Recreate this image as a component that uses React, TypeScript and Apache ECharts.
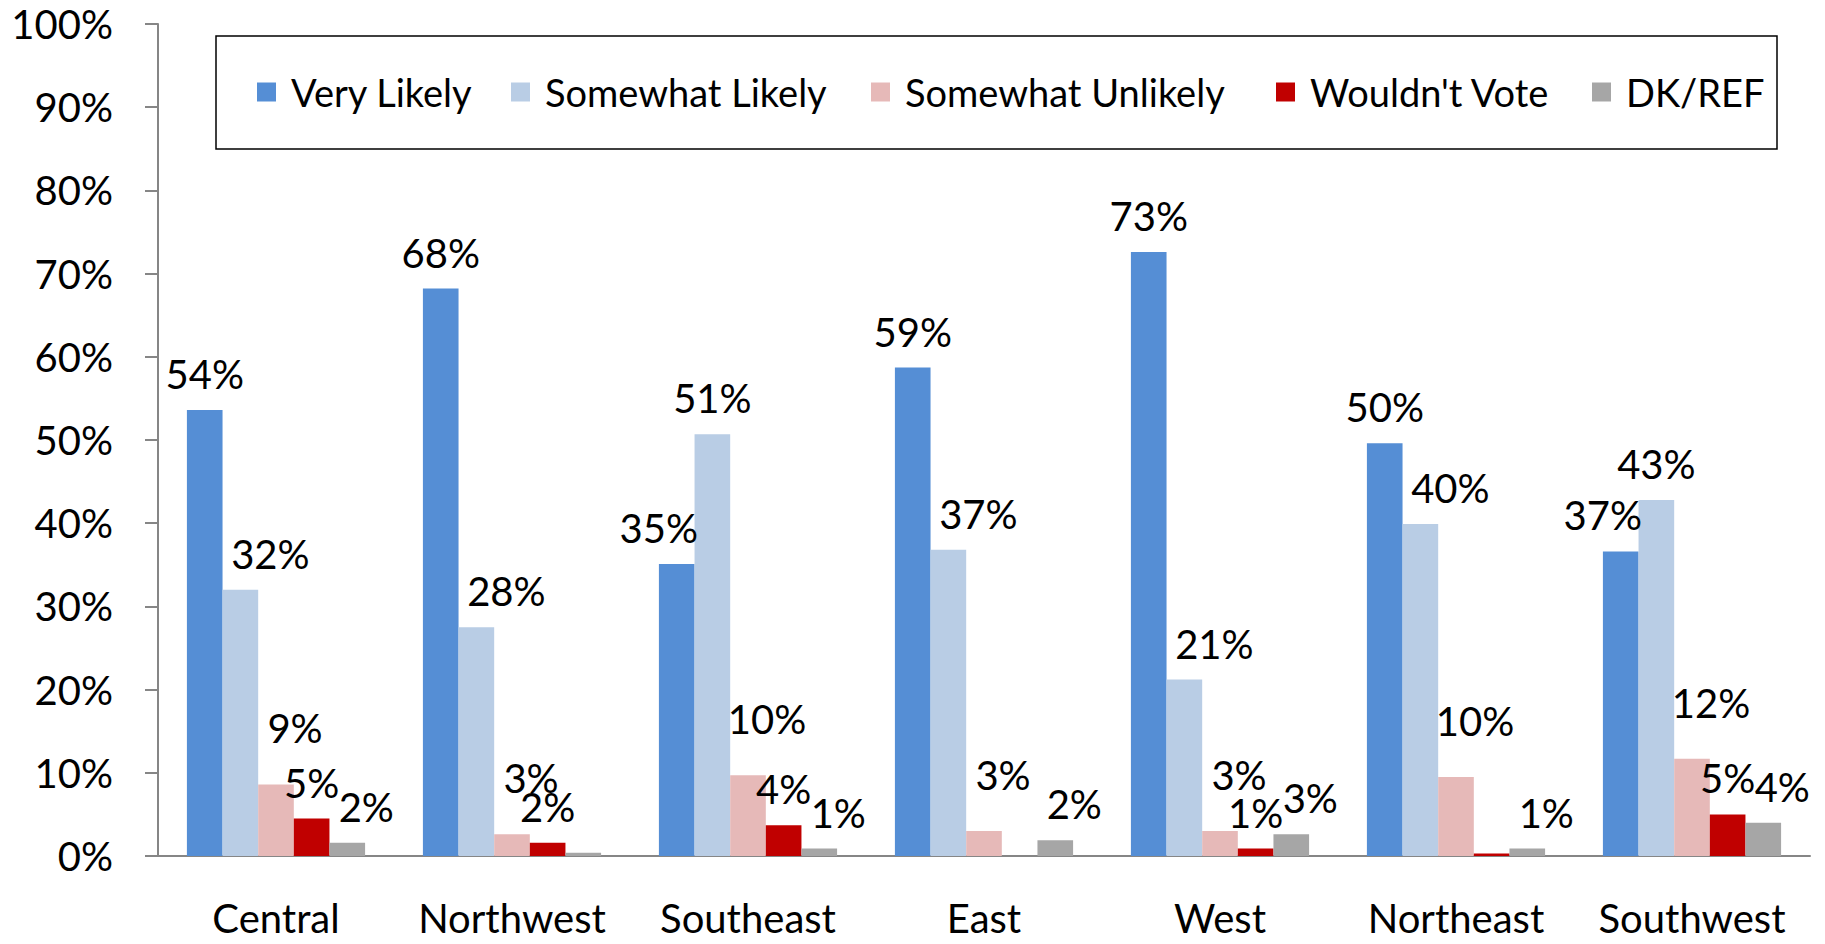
import React, { useEffect, useRef } from "react";
import * as echarts from "echarts";

const categories = ["Central", "Northwest", "Southeast", "East", "West", "Northeast", "Southwest"];
const seriesNames = ["Very Likely", "Somewhat Likely", "Somewhat Unlikely", "Wouldn't Vote", "DK/REF"];
const veryLikely = [53.6, 68.2, 35.1, 58.7, 72.6, 49.6, 36.6];
const somewhatLikely = [32.0, 27.5, 50.7, 36.8, 21.2, 39.9, 42.8];
const somewhatUnlikely = [8.6, 2.6, 9.7, 3.0, 3.0, 9.5, 11.7];
const wouldntVote = [4.5, 1.6, 3.7, 0, 0.9, 0.3, 5.0];
const dkRef = [1.6, 0.4, 0.9, 1.9, 2.6, 0.9, 4.0];
const colors = ["#558ED5", "#B9CDE5", "#E6B9B8", "#C00000", "#A6A6A6"];
const legendLefts = [257, 511, 871, 1276, 1592];

const FONT = "Lato";

export default function App() {
  const ref = useRef<HTMLDivElement>(null);
  useEffect(() => {
    if (!ref.current) return;
    const chart = echarts.init(ref.current, null, { renderer: "svg" });
    const values = [veryLikely, somewhatLikely, somewhatUnlikely, wouldntVote, dkRef];
    // label nudges so labels avoid the taller neighbouring bar (as in the original)
    const labelShift = (i: number, j: number): [number, number] => {
      if (i === 0) return [somewhatLikely[j] > veryLikely[j] ? -18 : 0, 0];
      if (i === 1) return [veryLikely[j] > somewhatLikely[j] ? 30 : 0, 0];
      if (i === 2) return [19, -20];
      if (i === 3) return [0, 0];
      return [19, 0];
    };
    const option: any = {
      animation: false,
      backgroundColor: "#ffffff",
      textStyle: { fontFamily: FONT },
      grid: { left: 158, right: 15, top: 24, bottom: 88, containLabel: false },
      graphic: [
        {
          type: "rect",
          shape: { x: 216, y: 36, width: 1561, height: 113 },
          style: { fill: "#ffffff", stroke: "#000000", lineWidth: 1.5 },
          z: 0,
        },
      ],
      legend: seriesNames.map((n, i) => ({
        data: [n],
        left: legendLefts[i],
        top: 73,
        padding: 0,
        itemWidth: 19,
        itemHeight: 19,
        icon: "rect",
        textStyle: { fontFamily: FONT, fontSize: 38, color: "#000", padding: [0, 0, 0, 10] },
        z: 5,
      })),
      xAxis: {
        type: "category",
        data: categories,
        axisLine: { lineStyle: { color: "#868686", width: 2 } },
        axisTick: { length: 14, lineStyle: { color: "#868686", width: 2 } },
        axisLabel: { fontFamily: FONT, fontSize: 40, color: "#000", margin: 42, interval: 0 },
      },
      yAxis: {
        type: "value",
        min: 0,
        max: 100,
        interval: 10,
        splitLine: { show: false },
        axisLine: { show: true, lineStyle: { color: "#868686", width: 2 } },
        axisTick: { show: true, length: 13, lineStyle: { color: "#868686", width: 2 } },
        axisLabel: { fontFamily: FONT, fontSize: 40, color: "#000", margin: 45, formatter: "{value}%" },
      },
      series: seriesNames.map((n, i) => ({
        name: n,
        type: "bar",
        data: values[i].map((v, j) => ({ value: v, label: { offset: labelShift(i, j) } })),
        barGap: "0%",
        barCategoryGap: "24.5%",
        itemStyle: { color: colors[i] },
        label: {
          show: true,
          position: "top",
          distance: 16,
          fontFamily: FONT,
          fontSize: 40,
          color: "#000",
          formatter: (p: any) => (Math.round(p.value) > 0 ? Math.round(p.value) + "%" : ""),
        },
      })),
    };
    chart.setOption(option);
    return () => chart.dispose();
  }, []);
  return (
    <div
      ref={ref}
      style={{ position: "fixed", left: 0, top: 0, width: 1825, height: 944, background: "#fff" }}
    />
  );
}
